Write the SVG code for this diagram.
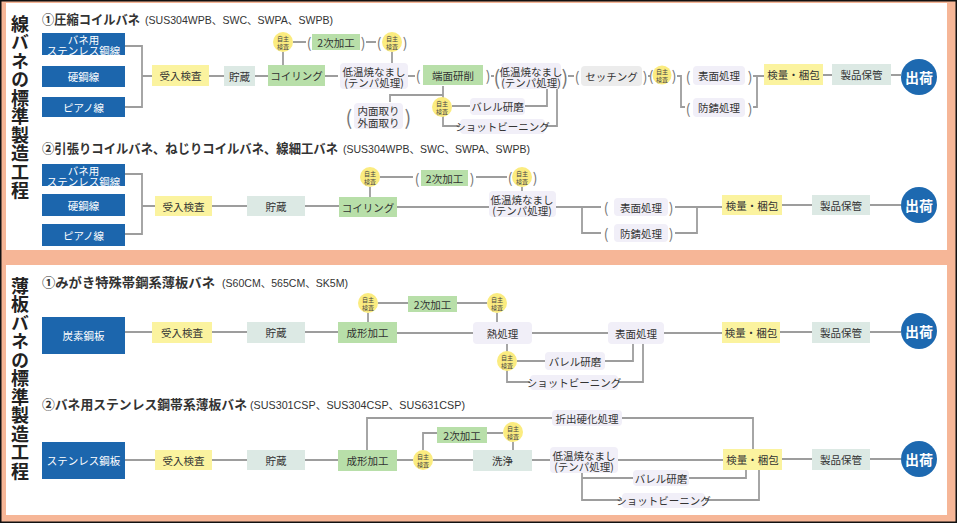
<svg xmlns="http://www.w3.org/2000/svg" width="957" height="523" viewBox="0 0 957 523">
<defs><style>
text{font-family:"Noto Sans CJK JP","Noto Sans",sans-serif}
.t{font-size:10.5px;fill:#333;text-anchor:middle;dominant-baseline:central}
.tw{font-size:10.5px;fill:#fff;text-anchor:middle;dominant-baseline:central}
.ts{font-size:6px;fill:#444;text-anchor:middle;dominant-baseline:central}
.p{font-size:14px;fill:#777;text-anchor:middle;dominant-baseline:central}
.pb{font-size:20px;fill:#777;text-anchor:middle;dominant-baseline:central}
.ttl{font-size:13px;font-weight:bold;fill:#333}
.sub{font-family:"Liberation Sans","Noto Sans CJK JP",sans-serif;font-size:11px;fill:#333}
.vt{font-size:18px;font-weight:bold;fill:#222;writing-mode:vertical-rl;letter-spacing:0.5px}
.ship{font-size:14px;font-weight:bold;fill:#fff;text-anchor:middle;dominant-baseline:central}
.b{fill:#1c66ad}
.y{fill:#fbf39f}
.g{fill:#b8dfa9}
.s{fill:#dce9e4}
.l{fill:#f1eff8}
.c{fill:#ececec}
.ci{fill:#fbec80}
.sh{fill:#1d69b0}
.ln{fill:none;stroke:#9d9d9d;stroke-width:1.8}
</style></defs>
<rect width="957" height="523" fill="#f6b697"/>
<rect x="6" y="3" width="941" height="247" fill="#fff"/>
<rect x="6" y="265" width="941" height="250" fill="#fff"/>
<rect x="0.75" y="0.75" width="955.5" height="521.5" fill="none" stroke="#111" stroke-width="1.5"/>

<g id="vtitle1"><text class="vt" x="20" y="15">線バネの標準製造工程</text></g>
<g id="vtitle2"><text class="vt" x="20" y="277">薄板バネの標準製造工程</text></g>

<g id="titles">
<text class="ttl" x="42" y="24" textLength="98" lengthAdjust="spacingAndGlyphs">①圧縮コイルバネ</text>
<text class="sub" x="145" y="24" textLength="188" lengthAdjust="spacingAndGlyphs">(SUS304WPB、SWC、SWPA、SWPB)</text>
<text class="ttl" x="42" y="153" textLength="296" lengthAdjust="spacingAndGlyphs">②引張りコイルバネ、ねじりコイルバネ、線細工バネ</text>
<text class="sub" x="343" y="153" textLength="187" lengthAdjust="spacingAndGlyphs">(SUS304WPB、SWC、SWPA、SWPB)</text>
<text class="ttl" x="42" y="287" textLength="173" lengthAdjust="spacingAndGlyphs">①みがき特殊帯鋼系薄板バネ</text>
<text class="sub" x="222" y="287" textLength="126" lengthAdjust="spacingAndGlyphs">(S60CM、565CM、SK5M)</text>
<text class="ttl" x="42" y="409" textLength="205" lengthAdjust="spacingAndGlyphs">②バネ用ステンレス鋼帯系薄板バネ</text>
<text class="sub" x="250" y="409" textLength="215" lengthAdjust="spacingAndGlyphs">(SUS301CSP、SUS304CSP、SUS631CSP)</text>
</g>

<g id="connectors">
<path class="ln" d="M125 46H142V107H125M142 76H152M209 76H224M255 76H268M283 52V65M293 42H306M366 42H376M392 52V63M325 76H338M408 76H415M491 76H494M568 76H574M648 76H650M677 76H681V107H685M753 107H757V76M753 76H764M823 75H832M891 75H901M443 86V126H460M390 102V95H443M452 106H470M525 106H547V89M545 126H557V89"/>
<path class="ln" d="M125 174H142V234H125M142 206H155M212 206H247M305 206H339M370 187V197M380 177H413M476 177H507M522 187V192M397 207H489M556 207H601M582 207V233H601M675 207H722M675 233H697V207M782 205H812M870 205H901"/>
<path class="ln" d="M125 332H152M212 332H247M305 332H338M368 313V322M378 303H408M457 303H487M497 313V322M397 333H473M532 333H608M664 333H722M780 332H812M870 332H901M507 344V382H530M517 361H545M605 361H633V344M618 382H643V344"/>
<path class="ln" d="M125 460H155M212 460H247M305 460H338M367 450V418H552M622 418H753V449M397 460H413M423 450V433H437M487 433H503M513 442V450M433 460H473M532 460H550M618 460H723M582 473V500H622M582 478H633M689 478H746V470M705 500H759V470M782 459H812M870 459H901"/>
</g>

<g id="s1-mat1"><rect class="b" x="42" y="33" width="83" height="22"/><text class="tw" font-size="9.5"><tspan x="83.5" y="39">バネ用</tspan><tspan x="83.5" y="49.5">ステンレス鋼線</tspan></text></g>
<g id="s1-mat2"><rect class="b" x="42" y="66" width="83" height="21"/><text class="tw" x="83.5" y="76.5">硬鋼線</text></g>
<g id="s1-mat3"><rect class="b" x="42" y="97" width="83" height="20"/><text class="tw" x="83.5" y="107">ピアノ線</text></g>
<g id="s1-ukeire"><rect class="y" x="152" y="65" width="57" height="21"/><text class="t" x="180.5" y="75.5">受入検査</text></g>
<g id="s1-chozo"><rect class="s" x="224" y="66" width="31" height="20"/><text class="t" x="239.5" y="76">貯蔵</text></g>
<g id="s1-coil"><rect class="g" x="268" y="65" width="57" height="21"/><text class="t" x="296.5" y="75.5">コイリング</text></g>
<g id="s1-jishu1"><circle class="ci" cx="283" cy="42" r="10"/><text class="ts"><tspan x="283" y="38.3">自主</tspan><tspan x="283" y="45.8">検査</tspan></text></g>
<g id="s1-niji"><text class="p" x="309" y="42">(</text><rect class="g" x="312" y="34" width="48" height="16"/><text class="t" x="336" y="42">2次加工</text><text class="p" x="363" y="42">)</text></g>
<g id="s1-jishu2"><text class="p" x="379" y="42">(</text><circle class="ci" cx="392" cy="42" r="10"/><text class="ts"><tspan x="392" y="38.3">自主</tspan><tspan x="392" y="45.8">検査</tspan></text><text class="p" x="405" y="42">)</text></g>
<g id="s1-tei1"><rect class="l" x="340" y="63" width="68" height="26" rx="4"/><text class="t"><tspan x="374" y="71">低温焼なまし</tspan><tspan x="374" y="82">(テンパ処理)</tspan></text></g>
<g id="s1-tanmen"><text class="p" x="418" y="75">(</text><rect class="g" x="423" y="65" width="60" height="20"/><text class="t" x="453" y="75">端面研削</text><text class="p" x="488" y="75">)</text></g>
<g id="s1-tei2"><text class="pb" x="497" y="76">(</text><rect class="l" x="501" y="63" width="60" height="26" rx="4"/><text class="t"><tspan x="531" y="71">低温焼なまし</tspan><tspan x="531" y="82">(テンパ処理)</tspan></text><text class="pb" x="565" y="76">)</text></g>
<g id="s1-setting"><text class="p" x="577" y="76">(</text><rect class="c" x="581" y="66" width="61" height="20" rx="4"/><text class="t" x="611.5" y="76">セッチング</text><text class="p" x="645" y="76">)</text></g>
<g id="s1-jishu3"><text class="p" x="651" y="75">(</text><circle class="ci" cx="662" cy="75" r="9.5"/><text class="ts"><tspan x="662" y="71.3">自主</tspan><tspan x="662" y="78.8">検査</tspan></text><text class="p" x="674" y="75">)</text></g>
<g id="s1-hyomen"><text class="p" x="688" y="75.5">(</text><rect class="l" x="693" y="66" width="52" height="19" rx="4"/><text class="t" x="719" y="75.5">表面処理</text><text class="p" x="750" y="75.5">)</text></g>
<g id="s1-bousei"><text class="p" x="688" y="107.5">(</text><rect class="l" x="693" y="98" width="52" height="19" rx="4"/><text class="t" x="719" y="107.5">防錆処理</text><text class="p" x="750" y="107.5">)</text></g>
<g id="s1-kenryo"><rect class="y" x="764" y="64" width="59" height="21"/><text class="t" x="793.5" y="74.5">検量・梱包</text></g>
<g id="s1-seihin"><rect class="s" x="832" y="64" width="59" height="21"/><text class="t" x="861.5" y="74.5">製品保管</text></g>
<g id="s1-ship"><circle class="sh" cx="919" cy="77" r="18"/><text class="ship" x="919" y="77">出荷</text></g>
<g id="s1-naimen"><text class="pb" x="349" y="116">(</text><rect class="l" x="354" y="103" width="49" height="26" rx="4"/><text class="t"><tspan x="378.5" y="110">内面取り</tspan><tspan x="378.5" y="122">外面取り</tspan></text><text class="pb" x="408" y="116">)</text></g>
<g id="s1-jishu4"><circle class="ci" cx="442" cy="107" r="10"/><text class="ts"><tspan x="442" y="103.3">自主</tspan><tspan x="442" y="110.8">検査</tspan></text></g>
<g id="s1-barrel"><rect class="l" x="470" y="98" width="55" height="17" rx="4"/><text class="t" x="497.5" y="106">バレル研磨</text></g>
<g id="s1-shot"><rect class="l" x="460" y="119" width="85" height="15" rx="4"/><text class="t" x="502.5" y="126" font-size="10">ショットビーニング</text></g>

<g id="s2-mat1"><rect class="b" x="42" y="164" width="83" height="22"/><text class="tw" font-size="9.5"><tspan x="83.5" y="170">バネ用</tspan><tspan x="83.5" y="180.5">ステンレス鋼線</tspan></text></g>
<g id="s2-mat2"><rect class="b" x="42" y="194" width="83" height="22"/><text class="tw" x="83.5" y="205">硬鋼線</text></g>
<g id="s2-mat3"><rect class="b" x="42" y="224" width="83" height="22"/><text class="tw" x="83.5" y="235">ピアノ線</text></g>
<g id="s2-ukeire"><rect class="y" x="155" y="196" width="57" height="20"/><text class="t" x="183.5" y="206">受入検査</text></g>
<g id="s2-chozo"><rect class="s" x="247" y="196" width="58" height="20"/><text class="t" x="276" y="206">貯蔵</text></g>
<g id="s2-coil"><rect class="g" x="339" y="197" width="58" height="20"/><text class="t" x="368" y="207">コイリング</text></g>
<g id="s2-jishu1"><circle class="ci" cx="370" cy="177" r="10"/><text class="ts"><tspan x="370" y="173.3">自主</tspan><tspan x="370" y="180.8">検査</tspan></text></g>
<g id="s2-niji"><text class="p" x="417" y="178">(</text><rect class="g" x="421" y="170" width="47" height="16"/><text class="t" x="444.5" y="178">2次加工</text><text class="p" x="472" y="178">)</text></g>
<g id="s2-jishu2"><text class="p" x="510" y="177">(</text><circle class="ci" cx="522" cy="177" r="10"/><text class="ts"><tspan x="522" y="173.3">自主</tspan><tspan x="522" y="180.8">検査</tspan></text><text class="p" x="535" y="177">)</text></g>
<g id="s2-tei"><rect class="l" x="489" y="191" width="67" height="26" rx="4"/><text class="t"><tspan x="522" y="198.5">低温焼なまし</tspan><tspan x="522" y="210">(テンパ処理)</tspan></text></g>
<g id="s2-hyomen"><text class="p" x="606" y="207">(</text><rect class="l" x="614" y="198" width="54" height="18" rx="4"/><text class="t" x="641" y="207">表面処理</text><text class="p" x="671" y="207">)</text></g>
<g id="s2-bousei"><text class="p" x="606" y="233">(</text><rect class="l" x="614" y="224" width="54" height="18" rx="4"/><text class="t" x="641" y="233">防錆処理</text><text class="p" x="671" y="233">)</text></g>
<g id="s2-kenryo"><rect class="y" x="722" y="195" width="60" height="20"/><text class="t" x="752" y="205">検量・梱包</text></g>
<g id="s2-seihin"><rect class="s" x="812" y="195" width="58" height="20"/><text class="t" x="841" y="205">製品保管</text></g>
<g id="s2-ship"><circle class="sh" cx="919" cy="205" r="18"/><text class="ship" x="919" y="205">出荷</text></g>

<g id="p1-mat"><rect class="b" x="42" y="317" width="83" height="37"/><text class="tw" x="83.5" y="335.5">炭素鋼板</text></g>
<g id="p1-ukeire"><rect class="y" x="152" y="322" width="60" height="21"/><text class="t" x="182" y="332.5">受入検査</text></g>
<g id="p1-chozo"><rect class="s" x="247" y="322" width="58" height="21"/><text class="t" x="276" y="332.5">貯蔵</text></g>
<g id="p1-seikei"><rect class="g" x="338" y="322" width="59" height="21"/><text class="t" x="367.5" y="332.5">成形加工</text></g>
<g id="p1-jishu1"><circle class="ci" cx="368" cy="303" r="10"/><text class="ts"><tspan x="368" y="299.3">自主</tspan><tspan x="368" y="306.8">検査</tspan></text></g>
<g id="p1-niji"><rect class="g" x="408" y="296" width="49" height="16"/><text class="t" x="432.5" y="304">2次加工</text></g>
<g id="p1-jishu2"><circle class="ci" cx="497" cy="303" r="10"/><text class="ts"><tspan x="497" y="299.3">自主</tspan><tspan x="497" y="306.8">検査</tspan></text></g>
<g id="p1-netsu"><rect class="l" x="473" y="322" width="59" height="22" rx="4"/><text class="t" x="502.5" y="333">熱処理</text></g>
<g id="p1-hyomen"><rect class="l" x="608" y="322" width="56" height="22" rx="4"/><text class="t" x="636" y="333">表面処理</text></g>
<g id="p1-jishu3"><circle class="ci" cx="507" cy="361" r="10"/><text class="ts"><tspan x="507" y="357.3">自主</tspan><tspan x="507" y="364.8">検査</tspan></text></g>
<g id="p1-barrel"><rect class="l" x="545" y="352" width="60" height="18" rx="4"/><text class="t" x="575" y="361">バレル研磨</text></g>
<g id="p1-shot"><rect class="l" x="530" y="375" width="88" height="15" rx="4"/><text class="t" x="574" y="382" font-size="10">ショットビーニング</text></g>
<g id="p1-kenryo"><rect class="y" x="722" y="322" width="58" height="21"/><text class="t" x="751" y="332.5">検量・梱包</text></g>
<g id="p1-seihin"><rect class="s" x="812" y="322" width="58" height="21"/><text class="t" x="841" y="332.5">製品保管</text></g>
<g id="p1-ship"><circle class="sh" cx="919" cy="331" r="18"/><text class="ship" x="919" y="331">出荷</text></g>

<g id="p2-mat"><rect class="b" x="42" y="442" width="83" height="37"/><text class="tw" x="83.5" y="460.5">ステンレス鋼板</text></g>
<g id="p2-ukeire"><rect class="y" x="155" y="450" width="57" height="20"/><text class="t" x="183.5" y="460">受入検査</text></g>
<g id="p2-chozo"><rect class="s" x="247" y="450" width="58" height="20"/><text class="t" x="276" y="460">貯蔵</text></g>
<g id="p2-seikei"><rect class="g" x="338" y="450" width="59" height="21"/><text class="t" x="367.5" y="460.5">成形加工</text></g>
<g id="p2-sekishutsu"><rect class="l" x="552" y="410" width="70" height="16" rx="4"/><text class="t" x="587" y="418" font-size="11">折出硬化処理</text></g>
<g id="p2-jishu1"><circle class="ci" cx="423" cy="460" r="10"/><text class="ts"><tspan x="423" y="456.3">自主</tspan><tspan x="423" y="463.8">検査</tspan></text></g>
<g id="p2-niji"><rect class="g" x="437" y="427" width="50" height="16"/><text class="t" x="462" y="435">2次加工</text></g>
<g id="p2-jishu2"><circle class="ci" cx="513" cy="432" r="10"/><text class="ts"><tspan x="513" y="428.3">自主</tspan><tspan x="513" y="435.8">検査</tspan></text></g>
<g id="p2-senjo"><rect class="s" x="473" y="450" width="59" height="21"/><text class="t" x="502.5" y="460.5">洗浄</text></g>
<g id="p2-tei"><rect class="l" x="550" y="447" width="68" height="26" rx="4"/><text class="t"><tspan x="584" y="455">低温焼なまし</tspan><tspan x="584" y="466">(テンパ処理)</tspan></text></g>
<g id="p2-barrel"><rect class="l" x="633" y="470" width="56" height="16" rx="4"/><text class="t" x="661" y="478">バレル研磨</text></g>
<g id="p2-shot"><rect class="l" x="622" y="493" width="83" height="15" rx="4"/><text class="t" x="663.5" y="500" font-size="10">ショットビーニング</text></g>
<g id="p2-kenryo"><rect class="y" x="723" y="449" width="59" height="21"/><text class="t" x="752.5" y="459.5">検量・梱包</text></g>
<g id="p2-seihin"><rect class="s" x="812" y="449" width="58" height="21"/><text class="t" x="841" y="459.5">製品保管</text></g>
<g id="p2-ship"><circle class="sh" cx="919" cy="459" r="18"/><text class="ship" x="919" y="459">出荷</text></g>
</svg>
